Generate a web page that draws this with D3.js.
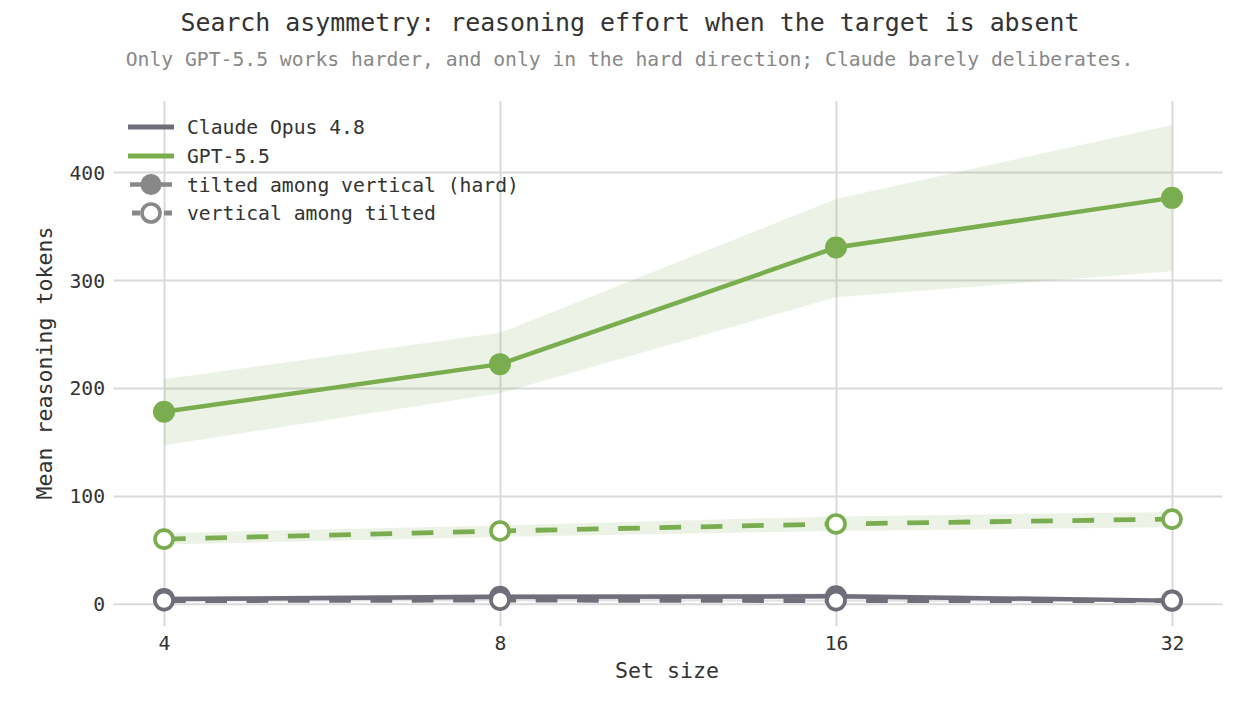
<!DOCTYPE html>
<html>
<head>
<meta charset="utf-8">
<script src="https://cdn.jsdelivr.net/npm/d3@7"></script>
<style>
  html, body { margin: 0; padding: 0; background: #fff; }
  svg { display: block; }
  text { font-family: "DejaVu Sans Mono", monospace; }
</style>
</head>
<body>
<svg id="chart" width="1260" height="720"></svg>
<script>
// ---- data ----
const setSizes = [4, 8, 16, 32];
const yTicks = [0, 100, 200, 300, 400];

const gptHard    = [178, 222, 330, 376];
const gptHardLo  = [147, 195, 284, 308];
const gptHardHi  = [208, 251, 375, 443.5];

const gptEasy    = [60, 67.5, 74, 78.5];
const gptEasyLo  = [55, 62, 67.5, 71];
const gptEasyHi  = [65.5, 72.5, 81, 85];

const claudeHard   = [4.5, 6.5, 7, 3];
const claudeHardLo = [2.5, 4, 4.5, 2];
const claudeHardHi = [6.5, 9, 9.5, 4.5];

const claudeEasy   = [3, 3.5, 3, 3];
const claudeEasyLo = [2, 2.5, 2, 2];
const claudeEasyHi = [4, 4.5, 4, 4];

const modelNames = ["Claude Opus 4.8", "GPT-5.5"];
const conditionNames = ["tilted among vertical (hard)", "vertical among tilted"];

const titleText = "Search asymmetry: reasoning effort when the target is absent";
const subtitleText = "Only GPT-5.5 works harder, and only in the hard direction; Claude barely deliberates.";
const xLabel = "Set size";
const yLabel = "Mean reasoning tokens";

// ---- styles ----
const CLAUDE = "#6f6f7b";
const GPT = "#7aad4f";
const GRID = "#dadada";
const TEXT = "#333333";

const svg = d3.select("#chart");
const plot = { left: 113.6, right: 1222.4, top: 101, bottom: 626 };

const x = d3.scaleLog().base(2).domain([4 / Math.pow(2, 0.15), 32 * Math.pow(2, 0.15)])
  .range([plot.left, plot.right]);
const y = d3.scaleLinear().domain([-20.5, 465.7]).range([plot.bottom, plot.top]);

// grid
const gx = d3.axisBottom(x).tickValues(setSizes).tickSize(-(plot.bottom - plot.top)).tickFormat("");
svg.append("g").attr("transform", `translate(0,${plot.bottom})`).call(gx)
  .call(g => g.select(".domain").remove())
  .call(g => g.selectAll("line").attr("stroke", GRID).attr("stroke-width", 2));
const gy = d3.axisLeft(y).tickValues(yTicks).tickSize(-(plot.right - plot.left)).tickFormat("");
svg.append("g").attr("transform", `translate(${plot.left},0)`).call(gy)
  .call(g => g.select(".domain").remove())
  .call(g => g.selectAll("line").attr("stroke", GRID).attr("stroke-width", 2));

// tick labels
const ax = d3.axisBottom(x).tickValues(setSizes).tickSize(0).tickPadding(0).tickFormat(d3.format("d"));
svg.append("g").attr("transform", `translate(0,650)`).call(ax)
  .call(g => g.select(".domain").remove())
  .call(g => g.selectAll("text").attr("dy", null).attr("y", 0)
    .attr("font-size", 19.7).attr("fill", TEXT).attr("font-family", "DejaVu Sans Mono"));
const ay = d3.axisLeft(y).tickValues(yTicks).tickSize(0).tickPadding(0).tickFormat(d3.format("d"));
svg.append("g").attr("transform", `translate(105,0)`).call(ay)
  .call(g => g.select(".domain").remove())
  .call(g => g.selectAll("text").attr("x", 0).attr("dy", "0.36em")
    .attr("font-size", 19.7).attr("fill", TEXT).attr("font-family", "DejaVu Sans Mono"));

// axis labels
svg.append("text").attr("x", 667).attr("y", 678).attr("text-anchor", "middle")
  .attr("font-size", 21.6).attr("fill", TEXT).text(xLabel);
svg.append("text").attr("transform", "translate(51.5,363) rotate(-90)").attr("text-anchor", "middle")
  .attr("font-size", 21.6).attr("fill", TEXT).text(yLabel);

// title
svg.append("text").attr("x", 630).attr("y", 30.5).attr("text-anchor", "middle")
  .attr("font-size", 24.9).attr("fill", TEXT).text(titleText);
svg.append("text").attr("x", 629.5).attr("y", 66).attr("text-anchor", "middle")
  .attr("font-size", 19.7).attr("fill", "#888888").text(subtitleText);

// series
const series = [
  { color: CLAUDE, v: claudeHard, lo: claudeHardLo, hi: claudeHardHi, dashed: false, bandOp: 0.2 },
  { color: CLAUDE, v: claudeEasy, lo: claudeEasyLo, hi: claudeEasyHi, dashed: true, bandOp: 0.2 },
  { color: GPT, v: gptHard, lo: gptHardLo, hi: gptHardHi, dashed: false, bandOp: 0.14 },
  { color: GPT, v: gptEasy, lo: gptEasyLo, hi: gptEasyHi, dashed: true, bandOp: 0.14 }
];

const area = d3.area().x((d, i) => x(setSizes[i])).y0(d => y(d[0])).y1(d => y(d[1]));
const line = d3.line().x((d, i) => x(setSizes[i])).y(d => y(d));

series.forEach(s => {
  svg.append("path").datum(s.lo.map((l, i) => [l, s.hi[i]]))
    .attr("d", area).attr("fill", s.color).attr("fill-opacity", s.bandOp).attr("stroke", "none");
});

series.forEach(s => {
  svg.append("path").datum(s.v).attr("d", line)
    .attr("fill", "none").attr("stroke", s.color).attr("stroke-width", s.dashed ? 4.8 : 4.5)
    .attr("stroke-dasharray", s.dashed ? "21.7,19.6" : null);
  svg.append("g").selectAll("circle").data(s.v).join("circle")
    .attr("cx", (d, i) => x(setSizes[i])).attr("cy", d => y(d))
    .attr("r", s.dashed ? 9 : 11)
    .attr("fill", s.dashed ? "#fff" : s.color)
    .attr("stroke", s.dashed ? s.color : "none")
    .attr("stroke-width", s.dashed ? 3.6 : 0);
});

// legend
const leg = svg.append("g");
const rows = [127, 156, 184.5, 213];
[CLAUDE, GPT].forEach((c, i) => {
  leg.append("line").attr("x1", 128).attr("x2", 174).attr("y1", rows[i]).attr("y2", rows[i])
    .attr("stroke", c).attr("stroke-width", 4.8);
  leg.append("text").attr("x", 187).attr("y", rows[i] + 7).attr("font-size", 19.7)
    .attr("fill", TEXT).text(modelNames[i]);
});
// hard: solid gray + filled marker
leg.append("line").attr("x1", 130).attr("x2", 172).attr("y1", rows[2]).attr("y2", rows[2])
  .attr("stroke", "#888").attr("stroke-width", 4.5);
leg.append("circle").attr("cx", 151).attr("cy", rows[2]).attr("r", 10.5).attr("fill", "#888");
leg.append("text").attr("x", 187).attr("y", rows[2] + 7).attr("font-size", 19.7)
  .attr("fill", TEXT).text(conditionNames[0]);
// easy: dashed gray + hollow marker
leg.append("line").attr("x1", 132).attr("x2", 172).attr("y1", rows[3]).attr("y2", rows[3])
  .attr("stroke", "#888").attr("stroke-width", 4.8).attr("stroke-dasharray", "8,24");
leg.append("circle").attr("cx", 151).attr("cy", rows[3]).attr("r", 9)
  .attr("fill", "#fff").attr("stroke", "#888").attr("stroke-width", 3.6);
leg.append("text").attr("x", 187).attr("y", rows[3] + 7).attr("font-size", 19.7)
  .attr("fill", TEXT).text(conditionNames[1]);
</script>
</body>
</html>
